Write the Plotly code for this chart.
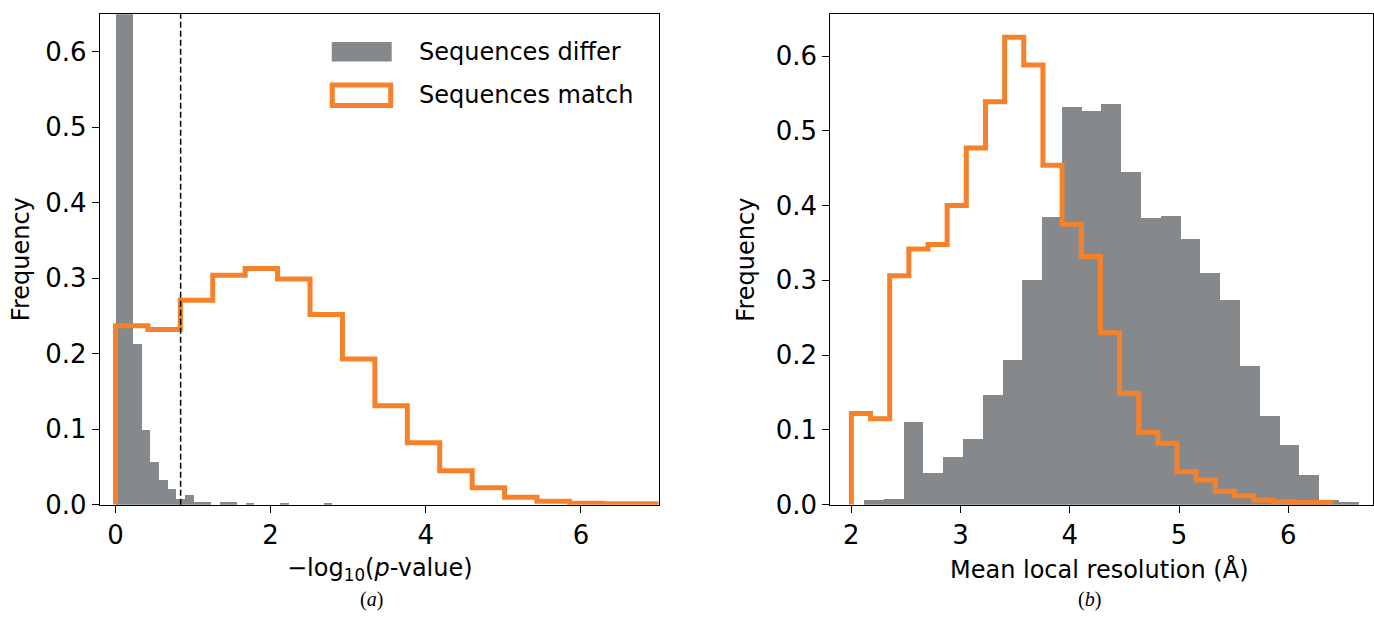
import numpy as np
import plotly.graph_objects as go

W, H = 1374, 630

# ---------------- data ----------------
# (a) -log10(p-value) histograms (density)
pval_differ_start = 0.0
pval_differ_width = 0.1117
pval_differ_freq = [4.90, 3.58, 0.213, 0.099, 0.056, 0.032, 0.021, 0.008, 0.012, 0.004,
                    0.003, 0.0, 0.004, 0.004, 0.0, 0.002, 0.0, 0.0, 0.0, 0.002,
                    0.0, 0.0, 0.0, 0.0, 0.002]
pval_match_start = 0.0
pval_match_width = 0.418
pval_match_freq = [0.237, 0.232, 0.271, 0.304, 0.313, 0.299, 0.252, 0.193, 0.131, 0.082,
                   0.045, 0.0225, 0.010, 0.0044, 0.002, 0.0013, 0.0013]
pval_threshold = 0.84

# (b) mean local resolution histograms (density)
res_differ_start = 2.119
res_differ_width = 0.1812
res_differ_freq = [0.006, 0.007, 0.111, 0.042, 0.063, 0.087, 0.146, 0.193, 0.300, 0.384,
                   0.532, 0.526, 0.535, 0.445, 0.383, 0.386, 0.355, 0.309, 0.274, 0.185,
                   0.118, 0.079, 0.040, 0.006, 0.003]
res_match_start = 2.0
res_match_width = 0.1754
res_match_freq = [0.122, 0.115, 0.306, 0.342, 0.348, 0.400, 0.477, 0.539, 0.625, 0.588,
                  0.454, 0.375, 0.332, 0.230, 0.149, 0.097, 0.082, 0.044, 0.033, 0.018,
                  0.012, 0.006, 0.004, 0.003, 0.003]

legend_labels = ["Sequences differ", "Sequences match"]
y_ticks = [0.0, 0.1, 0.2, 0.3, 0.4, 0.5, 0.6]
x_ticks_a = [0, 2, 4, 6]
x_ticks_b = [2, 3, 4, 5, 6]

# ---------------- styles ----------------
GREY = "#85898c"
ORANGE = "#f5822a"
FONT = "DejaVu Sans"


def px(x):
    return x / W


def py(y):
    return 1 - y / H


def centers(start, width, vals):
    return [start + (i + 0.5) * width for i in range(len(vals))]


def step_xy(start, width, vals):
    xs, ys = [start], [0.0]
    for i, v in enumerate(vals):
        x0 = start + i * width
        xs += [x0, x0 + width]
        ys += [v, v]
    xs.append(start + len(vals) * width)
    ys.append(0.0)
    return xs, ys


fig = go.Figure()

# panel (a)
fig.add_trace(go.Bar(x=centers(pval_differ_start, pval_differ_width, pval_differ_freq),
                     y=pval_differ_freq, width=pval_differ_width,
                     marker=dict(color=GREY, line=dict(width=0)),
                     xaxis="x", yaxis="y", showlegend=False))
xs, ys = step_xy(pval_match_start, pval_match_width, pval_match_freq)
fig.add_trace(go.Scatter(x=xs, y=ys, mode="lines", line=dict(color=ORANGE, width=5),
                         xaxis="x", yaxis="y", showlegend=False))

# panel (b)
fig.add_trace(go.Bar(x=centers(res_differ_start, res_differ_width, res_differ_freq),
                     y=res_differ_freq, width=res_differ_width,
                     marker=dict(color=GREY, line=dict(width=0)),
                     xaxis="x2", yaxis="y2", showlegend=False))
xs, ys = step_xy(res_match_start, res_match_width, res_match_freq)
fig.add_trace(go.Scatter(x=xs, y=ys, mode="lines", line=dict(color=ORANGE, width=5),
                         xaxis="x2", yaxis="y2", showlegend=False))

axis_common = dict(showline=True, mirror=True, linecolor="black", linewidth=1.3,
                   ticks="outside", ticklen=7, tickwidth=1.3, tickcolor="black",
                   showgrid=False, zeroline=False,
                   tickfont=dict(family=FONT, size=26, color="black"))

ybot, ytop = py(517), py(14.5)

fig.update_layout(
    width=W, height=H,
    margin=dict(l=0, r=0, t=0, b=0),
    paper_bgcolor="white", plot_bgcolor="white",
    bargap=0,
    xaxis=dict(domain=[px(100), px(659)], range=[-0.2, 7.0], tickvals=x_ticks_a,
               anchor="y", **axis_common),
    yaxis=dict(domain=[ybot, ytop], range=[0, 0.65], tickvals=y_ticks, tickformat=".1f",
               anchor="x", **axis_common),
    xaxis2=dict(domain=[px(831), 1.0], range=[1.808, 6.776], tickvals=x_ticks_b,
                anchor="y2", **axis_common),
    yaxis2=dict(domain=[ybot, ytop], range=[0, 0.656], tickvals=y_ticks, tickformat=".1f",
                anchor="x2", **axis_common),
)

# threshold line
fig.add_shape(type="line", xref="x", yref="y domain", x0=pval_threshold, x1=pval_threshold,
              y0=0, y1=1, line=dict(color="black", width=1.5, dash="6px,3px"), layer="above")

# legend (manual)
fig.add_shape(type="rect", xref="paper", yref="paper", x0=px(332), x1=px(392),
              y0=py(63), y1=py(43), fillcolor=GREY, line=dict(width=0))
fig.add_shape(type="rect", xref="paper", yref="paper", x0=px(332.5), x1=px(391),
              y0=py(108), y1=py(87), fillcolor="rgba(0,0,0,0)",
              line=dict(color=ORANGE, width=5))
for lab, yy in zip(legend_labels, [53, 97.5]):
    fig.add_annotation(text=lab, xref="paper", yref="paper", x=px(417), y=py(yy),
                       xanchor="left", yanchor="middle", showarrow=False,
                       font=dict(family=FONT, size=24, color="black"))

# axis titles
title_font = dict(family=FONT, size=24, color="black")
fig.add_annotation(text="Frequency", xref="paper", yref="paper", x=px(21), y=py(265.5),
                   textangle=-90, showarrow=False, xanchor="center", yanchor="middle",
                   font=title_font)
fig.add_annotation(text="Frequency", xref="paper", yref="paper", x=px(747), y=py(265.5),
                   textangle=-90, showarrow=False, xanchor="center", yanchor="middle",
                   font=title_font)
fig.add_annotation(text="\u2212log<sub>10</sub>(<i>p</i>-value)", xref="paper", yref="paper",
                   x=px(380), y=py(583), showarrow=False, xanchor="center", yanchor="middle",
                   font=title_font)
fig.add_annotation(text="Mean local resolution (\u00c5)", xref="paper", yref="paper",
                   x=px(1100), y=py(583), showarrow=False, xanchor="center", yanchor="middle",
                   font=title_font)

# panel captions
cap_font = dict(family="Liberation Serif", size=20, color="black")
fig.add_annotation(text="(<i>a</i>)", xref="paper", yref="paper", x=px(372), y=py(614),
                   showarrow=False, xanchor="center", yanchor="middle", font=cap_font)
fig.add_annotation(text="(<i>b</i>)", xref="paper", yref="paper", x=px(1090), y=py(614),
                   showarrow=False, xanchor="center", yanchor="middle", font=cap_font)

fig.write_html("out.html")
